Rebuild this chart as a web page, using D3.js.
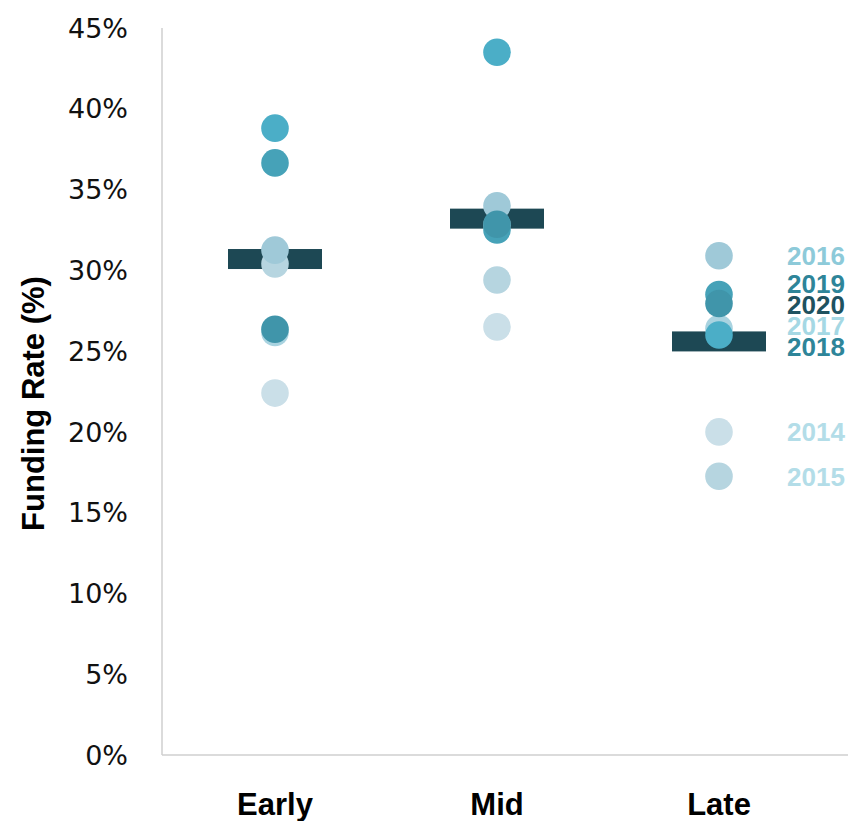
<!DOCTYPE html>
<html>
<head>
<meta charset="utf-8">
<script src="https://cdn.jsdelivr.net/npm/d3@7"></script>
<style>
  html, body { margin: 0; padding: 0; background: #fff; }
</style>
</head>
<body>
<svg id="chart"></svg>
<script>
// stages on the x axis
const stages = ["Early", "Mid", "Late"]
const years = [2014, 2015, 2016, 2017, 2018, 2019, 2020]

// funding rate (%) per year, one list per stage, same order as years
const earlyRates = [22.4, 30.4, 31.25, 26.15, 38.8, 36.65, 26.35]
const midRates = [26.5, 29.4, 34.0, 32.8, 43.5, 32.5, 32.85]
const lateRates = [20.0, 17.25, 30.9, 26.4, 26.0, 28.5, 27.95]

// thick marker per stage
const stageMarks = [30.7, 33.2, 25.6]

const yTicks = [0, 5, 10, 15, 20, 25, 30, 35, 40, 45]

const circleColors = ["#CADFE8", "#B6D5E0", "#9FC9D8", "#A9D3E0", "#4BAEC7", "#46A2B8", "#4095AA"]
const labelColors = ["#B3DDE8", "#B3DDE8", "#8DCAD9", "#A5D8E4", "#2E8599", "#2E8599", "#1E5260"]

const width = 848
const height = 821
const svg = d3.select("#chart")
  .attr("width", width)
  .attr("height", height)

const x = d3.scalePoint()
  .domain(stages)
  .range([164, 830])
  .padding(0.5)

const y = d3.scaleLinear()
  .domain([0, 45])
  .range([755, 28])

const rates = [earlyRates, midRates, lateRates]
const points = stages.flatMap((stage, i) =>
  years.map((year, j) => ({ stage, year, value: rates[i][j], color: circleColors[j] })))

// axis lines
svg.append("line")
  .attr("x1", 162).attr("x2", 162)
  .attr("y1", y(45)).attr("y2", y(0))
  .attr("stroke", "#CFCFCF")
  .attr("stroke-width", 1.5)

svg.append("line")
  .attr("x1", 162).attr("x2", width)
  .attr("y1", y(0)).attr("y2", y(0))
  .attr("stroke", "#CFCFCF")
  .attr("stroke-width", 1.5)

// y tick labels
svg.append("g")
  .selectAll("text")
  .data(yTicks)
  .join("text")
  .attr("x", 128)
  .attr("y", d => y(d))
  .attr("dy", "0.36em")
  .attr("text-anchor", "end")
  .attr("font-family", "DejaVu Sans")
  .attr("font-size", 27)
  .attr("fill", "#111")
  .text(d => d + "%")

// y axis title
svg.append("text")
  .attr("transform", `translate(44, ${(y(0) + y(45)) / 2 + 12}) rotate(-90)`)
  .attr("text-anchor", "middle")
  .attr("font-family", "Liberation Sans")
  .attr("font-weight", "bold")
  .attr("font-size", 31)
  .attr("fill", "#000")
  .text("Funding Rate (%)")

// stage labels
svg.append("g")
  .selectAll("text")
  .data(stages)
  .join("text")
  .attr("x", d => x(d))
  .attr("y", 815)
  .attr("text-anchor", "middle")
  .attr("font-family", "Liberation Sans")
  .attr("font-weight", "bold")
  .attr("font-size", 31)
  .attr("fill", "#000")
  .text(d => d)

// stage markers, under the dots
svg.append("g")
  .selectAll("rect")
  .data(stages)
  .join("rect")
  .attr("x", d => x(d) - 47)
  .attr("y", (d, i) => y(stageMarks[i]) - 10)
  .attr("width", 94)
  .attr("height", 20)
  .attr("fill", "#1D4854")

// dots, drawn in year order so later years sit on top
svg.append("g")
  .selectAll("circle")
  .data(points)
  .join("circle")
  .attr("cx", d => x(d.stage))
  .attr("cy", d => y(d.value))
  .attr("r", 13.8)
  .attr("fill", d => d.color)

// year labels next to the last stage, spread out so they don't collide
const gap = 21
let groups = years
  .map((year, j) => ({ year, color: labelColors[j], y0: y(lateRates[j]) }))
  .sort((a, b) => a.y0 - b.y0)
  .map(n => ({ members: [n] }))

function layout(g) {
  const mean = d3.mean(g.members, m => m.y0)
  g.top = mean - (g.members.length - 1) * gap / 2
  g.bottom = g.top + (g.members.length - 1) * gap
}
groups.forEach(layout)

let merged = true
while (merged) {
  merged = false
  for (let i = 0; i < groups.length - 1; i++) {
    if (groups[i + 1].top - groups[i].bottom < gap) {
      groups[i].members = groups[i].members.concat(groups[i + 1].members)
      groups.splice(i + 1, 1)
      layout(groups[i])
      merged = true
      break
    }
  }
}
const labels = groups.flatMap(g => g.members.map((m, k) => ({ ...m, ly: g.top + k * gap })))

svg.append("g")
  .selectAll("text")
  .data(labels)
  .join("text")
  .attr("x", x("Late") + 68)
  .attr("y", d => d.ly)
  .attr("dy", "0.36em")
  .attr("font-family", "Liberation Sans")
  .attr("font-weight", "bold")
  .attr("font-size", 26)
  .attr("fill", d => d.color)
  .text(d => d.year)
</script>
</body>
</html>
